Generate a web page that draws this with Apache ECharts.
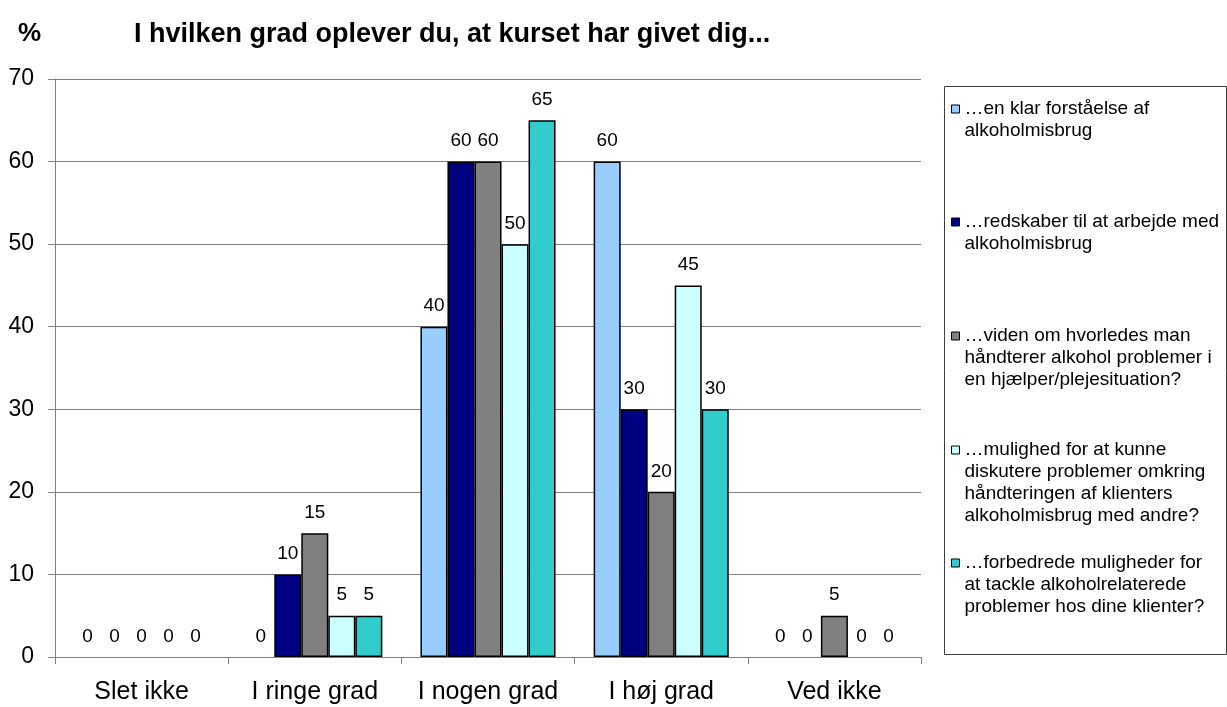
<!DOCTYPE html>
<html>
<head>
<meta charset="utf-8">
<style>
  html, body { margin: 0; padding: 0; background: #fff; }
  #main { width: 1227px; height: 707px; }
</style>
<script src="https://cdn.jsdelivr.net/npm/echarts@6/dist/echarts.min.js"></script>
</head>
<body>
<div id="main"></div>
<script>
var categories = ['Slet ikke', 'I ringe grad', 'I nogen grad', 'I høj grad', 'Ved ikke'];
var seriesNames = [
  '…en klar forståelse af alkoholmisbrug',
  '…redskaber til at arbejde med alkoholmisbrug',
  '…viden om hvorledes man håndterer alkohol problemer i en hjælper/plejesituation?',
  '…mulighed for at kunne diskutere problemer omkring håndteringen af klienters alkoholmisbrug med andre?',
  '…forbedrede muligheder for at tackle alkoholrelaterede problemer hos dine klienter?'
];
// legend text as wrapped in the reference
var legendLines = [
  ['…en klar forståelse af', 'alkoholmisbrug'],
  ['…redskaber til at arbejde med', 'alkoholmisbrug'],
  ['…viden om hvorledes man', 'håndterer alkohol problemer i', 'en hjælper/plejesituation?'],
  ['…mulighed for at kunne', 'diskutere problemer omkring', 'håndteringen af klienters', 'alkoholmisbrug med andre?'],
  ['…forbedrede muligheder for', 'at tackle alkoholrelaterede', 'problemer hos dine klienter?']
];
var forstaaelse = [0, 0, 40, 60, 0];
var redskaber = [0, 10, 60, 30, 0];
var viden = [0, 15, 60, 20, 5];
var mulighed = [0, 5, 50, 45, 0];
var forbedrede = [0, 5, 65, 30, 0];
var yTicks = { min: 0, max: 70, interval: 10 };

var colors = ['#99CCFF', '#000080', '#808080', '#CCFFFF', '#33CCCC'];
var values = [forstaaelse, redskaber, viden, mulighed, forbedrede];

var FONT = 'Liberation Sans, Arial, sans-serif';
var myChart = echarts.init(document.getElementById('main'));

// icon sits next to the first line: pad the text with blank lines above
var LH = 22;
var legendY = [109, 222, 336, 450, 563];
var legends = seriesNames.map(function (name, i) {
  var n = legendLines[i].length;
  var pad = [];
  for (var k = 1; k < n; k++) pad.push('');
  var txt = pad.concat(legendLines[i]).join('\n');
  return {
    data: [name],
    orient: 'vertical',
    left: 951,
    top: legendY[i] - (2 * n - 1) * LH / 2,
    padding: 0,
    icon: 'rect',
    itemWidth: 8,
    itemHeight: 8,
    selectedMode: false,
    itemStyle: { borderColor: '#000', borderWidth: 1 },
    textStyle: { fontFamily: FONT, fontSize: 19, color: '#000', lineHeight: LH },
    formatter: function () { return txt; }
  };
});

var series = values.map(function (vals, i) {
  return {
    name: seriesNames[i],
    type: 'bar',
    // zero bars are not drawn in the reference, only their labels
    data: vals.map(function (v) {
      return { value: v, itemStyle: { borderWidth: v === 0 ? 0 : 1.5 } };
    }),
    barGap: '0%',
    barCategoryGap: '22%',
    itemStyle: { color: colors[i], borderColor: '#000', borderWidth: 1.5 },
    label: {
      show: true,
      position: 'top',
      distance: 11,
      fontFamily: FONT,
      fontSize: 19,
      color: '#000'
    },
    emphasis: { disabled: true }
  };
});

var option = {
  animation: false,
  textStyle: { fontFamily: FONT },
  title: [{
    text: '%',
    left: 13,
    top: 16,
    textStyle: { fontFamily: FONT, fontSize: 26, fontWeight: 'bold', color: '#000' }
  }, {
    text: 'I hvilken grad oplever du, at kurset har givet dig...',
    left: 129,
    top: 16,
    textStyle: { fontFamily: FONT, fontSize: 27, fontWeight: 'bold', color: '#000' }
  }],
  legend: legends,
  grid: { left: 55, right: 306, top: 79, bottom: 50, containLabel: false },
  xAxis: {
    type: 'category',
    data: categories,
    axisLine: { lineStyle: { color: '#808080', width: 1 } },
    axisTick: { show: true, interval: 0, length: 7, lineStyle: { color: '#808080' } },
    axisLabel: { interval: 0, fontFamily: FONT, fontSize: 25, color: '#000', margin: 23 }
  },
  yAxis: {
    type: 'value',
    min: yTicks.min,
    max: yTicks.max,
    interval: yTicks.interval,
    axisLine: { show: true, lineStyle: { color: '#808080', width: 1 } },
    axisTick: { show: true, length: 7, lineStyle: { color: '#808080' } },
    axisLabel: { fontFamily: FONT, fontSize: 23, color: '#000', margin: 21 },
    splitLine: { lineStyle: { color: '#808080', width: 1 } }
  },
  graphic: [{
    type: 'rect',
    shape: { x: 944.5, y: 86.5, width: 282, height: 568 },
    style: { fill: 'none', stroke: '#404040', lineWidth: 1 },
    silent: true
  }],
  series: series
};
myChart.setOption(option);
</script>
</body>
</html>
